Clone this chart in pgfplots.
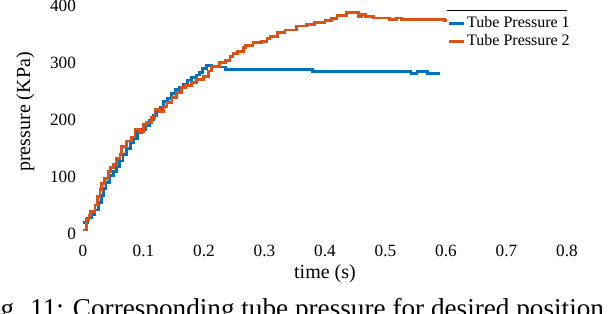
\documentclass[border=0pt]{standalone}
\usepackage{pgfplots}
\pgfplotsset{compat=1.18}
\usepackage{fontspec}
\setmainfont{Liberation Serif}
\definecolor{mblue}{RGB}{0,114,189}
\definecolor{morange}{RGB}{217,83,25}
\begin{document}
\begin{tikzpicture}
\begin{axis}[
  at={(41.5pt,40pt)}, anchor=south west,
  scale only axis, width=242pt, height=114pt,
  xmin=0, xmax=0.8, ymin=0, ymax=400,
  xtick={0,0.1,...,0.8}, ytick={0,100,200,300,400},
  axis line style={draw=none}, major tick length=0pt,
  /pgf/number format/assume math mode=true,
  /pgf/number format/fixed,
  tick label style={font=\fontsize{8.6}{10}\selectfont},
  xticklabel style={yshift=-2pt},
  yticklabel style={xshift=0pt},
  label style={font=\fontsize{10}{11}\selectfont},
  xlabel={time (s)}, ylabel={pressure (KPa)},
  xlabel style={yshift=3pt},
  ylabel style={yshift=1pt, xshift=4pt},
  clip=false,
  legend cell align=left,
  legend style={draw=none, fill=none, at={(rel axis cs:0.748,0.982)}, anchor=north west,
    font=\fontsize{8}{9}\selectfont, inner sep=1pt, row sep=-2pt, nodes={inner xsep=1pt}},
  legend image code/.code={\draw[#1] (0pt,0pt) -- (7.5pt,0pt);},
]
\addplot[const plot, mblue, line width=1.4pt] coordinates {
(0,20) (0.008,28) (0.014,34) (0.02,42) (0.026,55) (0.03,68) (0.034,80) (0.038,90)
(0.044,102) (0.05,110) (0.055,118) (0.06,128) (0.066,140) (0.072,150) (0.078,160)
(0.084,168) (0.09,178) (0.097,183) (0.104,190) (0.11,200) (0.116,208) (0.122,216)
(0.128,222) (0.133,232) (0.14,238) (0.146,246) (0.152,253) (0.159,258) (0.166,263)
(0.173,270) (0.18,274) (0.187,279) (0.193,284) (0.198,290) (0.204,295) (0.213,293)
(0.235,289) (0.264,288) (0.276,289) (0.28,288) (0.38,285) (0.542,282) (0.552,285)
(0.569,282) (0.59,282)
};
\addlegendentry{Tube Pressure 1}
\addplot[const plot, morange, line width=1.4pt] coordinates {
(0,7) (0.006,25) (0.01,33) (0.013,39) (0.02,51) (0.024,66) (0.028,78) (0.031,89)
(0.036,98) (0.042,110) (0.046,116) (0.05,122) (0.056,132) (0.061,140) (0.064,154)
(0.072,163) (0.08,170) (0.086,183) (0.094,180) (0.1,192) (0.105,195) (0.113,204)
(0.119,218) (0.127,215) (0.133,224) (0.139,230) (0.147,239) (0.155,248) (0.163,257)
(0.17,260) (0.18,266) (0.188,271) (0.199,277) (0.207,286) (0.213,294) (0.226,301)
(0.235,305) (0.243,311) (0.248,317) (0.256,320) (0.265,327) (0.268,331) (0.281,336)
(0.295,338) (0.304,343) (0.309,346) (0.322,354) (0.334,358) (0.353,365) (0.37,368)
(0.383,371) (0.4,374) (0.411,378) (0.42,383) (0.436,388) (0.455,382) (0.461,385)
(0.467,382) (0.48,379) (0.507,377) (0.518,379) (0.527,376) (0.597,374) (0.601,374)
};
\addlegendentry{Tube Pressure 2}
\draw[black, line width=0.5pt] (rel axis cs:0.752,0.982) -- (rel axis cs:1.0,0.982);
\end{axis}
\node[anchor=base west, inner sep=0pt, font=\fontsize{13.6}{15}\selectfont] at (-11.2pt,-2pt)
  {Fig. 11: Corresponding tube pressure for desired position};
\pgfresetboundingbox
\useasboundingbox (0,0) rectangle (308pt,157pt);
\end{tikzpicture}
\end{document}
